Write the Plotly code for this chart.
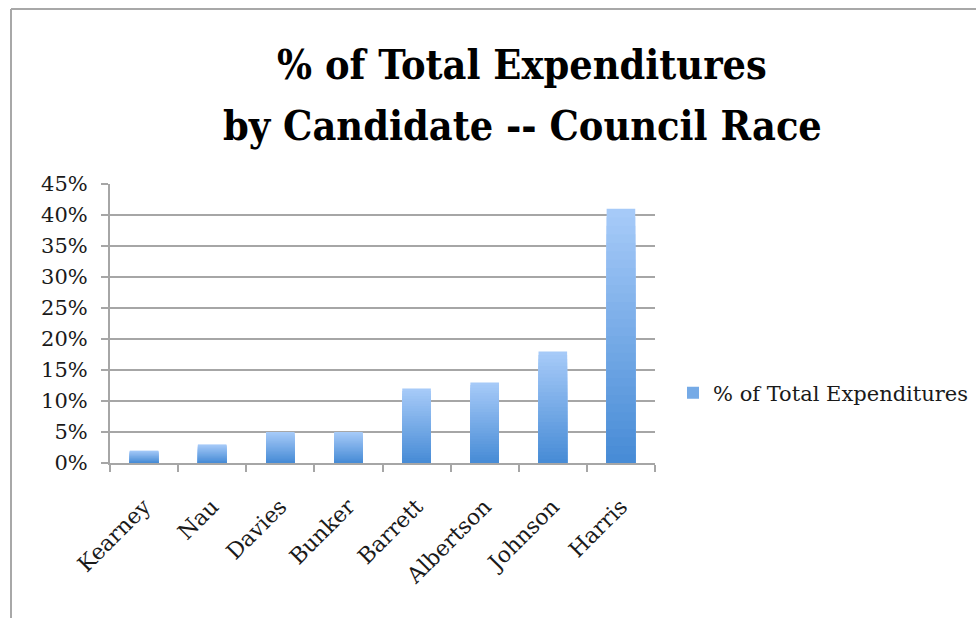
import plotly.graph_objects as go

# Share of total expenditures per council candidate (percent)
candidates = ["Kearney", "Nau", "Davies", "Bunker", "Barrett", "Albertson", "Johnson", "Harris"]
pct_expenditures = [2, 3, 5, 5, 12, 13, 18, 41]
y_ticks = [0, 5, 10, 15, 20, 25, 30, 35, 40, 45]
y_tick_labels = [f"{t}%" for t in y_ticks]
series_name = "% of Total Expenditures"
title_lines = ["% of Total Expenditures", "by Candidate -- Council Race"]

SERIF = "DejaVu Serif"
TOP_RGB = (166, 202, 248)     # light blue at the top of each bar
BOTTOM_RGB = (72, 140, 214)   # deeper blue at the base
LAYERS = 30

# plot-area geometry in pixels
L, R, T, B = 110, 655, 184, 463
W, H = R - L, B - T


def px_x(px):
    return (px - L) / W


def px_y(py):
    return (B - py) / H


fig = go.Figure()

# Vertical gradient: stack progressively shorter, darker bars on top of each other
for k in range(LAYERS):
    frac = (LAYERS - k) / LAYERS
    t = k / (LAYERS - 1)
    r, g, b = (round(a + (c - a) * t) for a, c in zip(TOP_RGB, BOTTOM_RGB))
    fig.add_trace(go.Bar(
        x=candidates,
        y=[v * frac for v in pct_expenditures],
        width=0.42,
        marker=dict(color=f"rgb({r},{g},{b})", line=dict(width=0)),
        name=series_name,
        showlegend=(k == LAYERS // 2),
        hoverinfo="skip" if k else "x+y",
    ))

grid_col = "#a6a6a6"

# two-line bold heading
title_annotations = [
    dict(text=f"<b>{line}</b>", xref="paper", yref="paper",
         x=px_x(522), y=px_y(cy), xanchor="center", yanchor="middle",
         showarrow=False,
         font=dict(family="DejaVu Serif Condensed", size=41, color="black"))
    for line, cy in zip(title_lines, [65, 126])
]

fig.update_layout(
    width=976, height=618,
    barmode="overlay",
    paper_bgcolor="white", plot_bgcolor="white",
    margin=dict(l=L, r=976 - R, t=T, b=618 - B, autoexpand=False),
    font=dict(family=SERIF, size=21, color="#1a1a1a"),
    xaxis=dict(
        type="category",
        showline=True, linecolor=grid_col, linewidth=2,
        ticks="outside", tickson="boundaries", ticklen=7, tickcolor=grid_col, tickwidth=2,
        tickangle=-45,
        ticklabelstandoff=20,
        tickfont=dict(family=SERIF, size=22),
        showgrid=False,
    ),
    yaxis=dict(
        range=[0, 45],
        tickvals=y_ticks, ticktext=y_tick_labels,
        showline=True, linecolor=grid_col, linewidth=2,
        ticks="outside", ticklen=7, tickcolor=grid_col, tickwidth=2,
        showgrid=True, gridcolor=grid_col, gridwidth=2,
        zeroline=False,
        ticklabelstandoff=9,
        tickfont=dict(family=SERIF, size=21),
    ),
    legend=dict(
        x=px_x(673), xanchor="left", y=px_y(393), yanchor="middle",
        font=dict(family=SERIF, size=21),
        bgcolor="rgba(0,0,0,0)",
        itemwidth=30,
    ),
    annotations=title_annotations,
    shapes=[
        # outer chart frame (top and left edges)
        dict(type="line", xref="paper", yref="paper",
             x0=px_x(11), x1=px_x(976), y0=px_y(9), y1=px_y(9),
             line=dict(color="#a8a8a8", width=2)),
        dict(type="line", xref="paper", yref="paper",
             x0=px_x(11), x1=px_x(11), y0=px_y(9), y1=px_y(618),
             line=dict(color="#a8a8a8", width=2)),
    ],
)

fig.write_html("out.html")
